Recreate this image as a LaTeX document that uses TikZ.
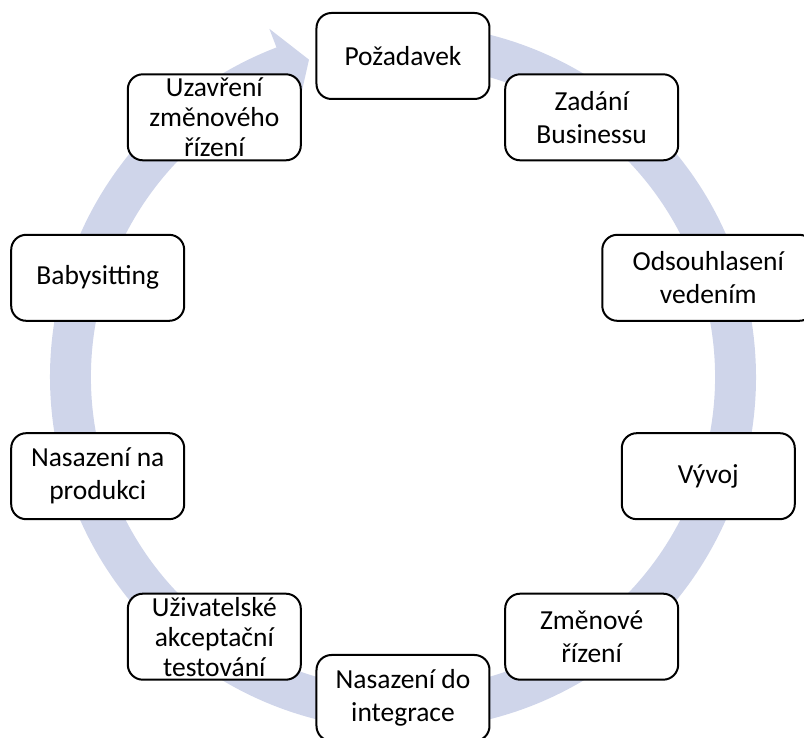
\documentclass[tikz,border=0pt]{standalone}
\usepackage{fontspec}
\setmainfont{Carlito}
\definecolor{kruh}{RGB}{207,213,234}
\tikzset{
    krok/.style={rectangle, rounded corners=7.5pt, draw=black, line width=1pt,
                    fill=white, minimum width=86.5pt, minimum height=43pt,
                    inner sep=0pt, align=center,
                    font=\fontsize{13.75}{16.5}\selectfont},
    krokhusty/.style={krok, font=\fontsize{13.75}{15}\selectfont}}

\begin{document}
\begin{tikzpicture}[x=0.5pt, y=0.5pt]
    \useasboundingbox (-403,-361) rectangle (401,377);
    % kruhova sipka
    \fill[kruh] (95:353) arc[start angle=95, end angle=-249, radius=353]
        -- (111:373) -- (106.5:331) -- (111:291) -- (111:312)
        arc[start angle=-249, end angle=95, radius=312] -- cycle;

    \node[krok] (pozadavek) at (90:321) {Požadavek};
    \node[krok] (zadani) at (54:321) {Zadání\\Businessu};
    \node[krok, minimum width=106pt] (odsouhlaseni) at (18:321)
        {Odsouhlasení\\vedením};
    \node[krok] (vyvoj) at (-18:321) {Vývoj};
    \node[krok] (zmenove) at (-54:321) {Změnové\\řízení};
    \node[krok] (integrace) at (-90:321) {Nasazení do\\integrace};
    \node[krokhusty] (uat) at (-126:321)
        {Uživatelské\\akceptační\\testování};
    \node[krok] (produkce) at (-162:321) {Nasazení na\\produkci};
    \node[krok] (babysitting) at (162:321) {Babysitting};
    \node[krokhusty] (uzavreni) at (126:321)
        {Uzavření\\změnového\\řízení};
\end{tikzpicture}
\end{document}
